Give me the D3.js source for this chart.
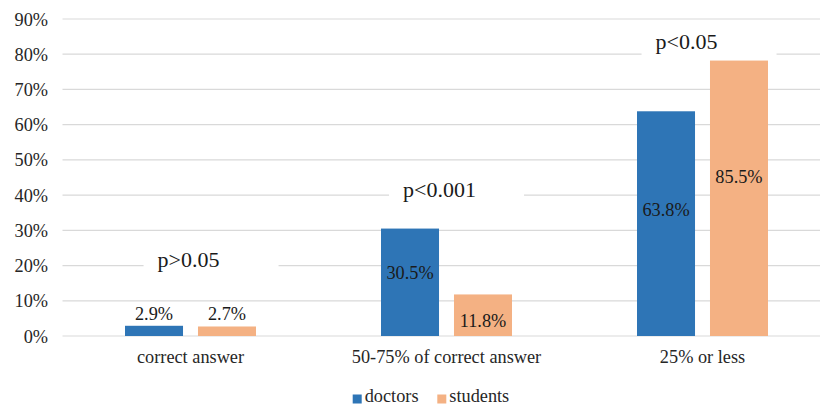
<!DOCTYPE html>
<html><head><meta charset="utf-8">
<script src="https://cdn.jsdelivr.net/npm/d3@7"></script>
<style>
html,body{margin:0;padding:0;background:#fff;}
svg{display:block;}
</style></head>
<body><svg id="c" width="820" height="410" font-family="Liberation Serif"></svg>
<script>
// ---- data ----
const categories = ["correct answer", "50-75% of correct answer", "25% or less"];
const seriesNames = ["doctors", "students"];
const doctors = [2.9, 30.5, 63.8];          // bar heights (%)
const students = [2.7, 11.8, 78.2];         // bar heights as drawn (%)
const doctorLabels = ["2.9%", "30.5%", "63.8%"];
const studentLabels = ["2.7%", "11.8%", "85.5%"];
const pLabels = ["p>0.05", "p<0.001", "p<0.05"];
const yTicks = [0, 10, 20, 30, 40, 50, 60, 70, 80, 90];

// ---- label placement (in value units / px offsets), kept separate ----
const doctorLabelAt = [4.5, 16.1, 34.1];
const studentLabelAt = [4.5, 2.6, 43.4];
const pLabelAt = [19.6, 39.4, 81.4];
const pLabelDx = [-2, -7, -16];

const FONT = "Liberation Serif";
const colors = {doctors: "#2E75B6", students: "#F4B183"};
const svg = d3.select("#c");

const x0 = d3.scaleBand().domain(categories).range([62.5, 830.5]).paddingInner(0).paddingOuter(0);
const x1 = d3.scaleBand().domain(seriesNames).range([62.5, x0.bandwidth() - 62.5]).paddingInner(0.205).paddingOuter(0);
const y = d3.scaleLinear().domain([0, 90]).range([336, 19]);

// gridlines
svg.append("g").selectAll("line").data(yTicks).join("line")
  .attr("x1", 62.5).attr("x2", 830).attr("y1", d => y(d)).attr("y2", d => y(d))
  .attr("stroke", "#D9D9D9").attr("stroke-width", 1.2);

// y axis labels
const yAxis = d3.axisLeft(y).tickValues(yTicks).tickFormat(d => d + "%").tickSize(0).tickPadding(0);
const gy = svg.append("g").attr("transform", "translate(48,0)").call(yAxis);
gy.select(".domain").remove();
gy.attr("font-family", FONT).attr("font-size", 18.3);
gy.selectAll("text").attr("font-family", FONT).attr("font-size", 18.3).attr("fill", "#262626").attr("dy", "0.33em");

// bars
const rows = categories.map((c, i) => ({c, i, vals: [doctors[i], students[i]]}));
const groups = svg.append("g").selectAll("g").data(rows).join("g")
  .attr("transform", d => `translate(${x0(d.c)},0)`);
groups.selectAll("rect").data(d => seriesNames.map((s, k) => ({s, v: d.vals[k]}))).join("rect")
  .attr("x", d => x1(d.s)).attr("width", x1.bandwidth())
  .attr("y", d => y(d.v)).attr("height", d => y(0) - y(d.v))
  .attr("fill", d => colors[d.s]);

// data labels
const lab = svg.append("g").attr("font-family", FONT).attr("font-size", 18.3).attr("fill", "#1a1a1a").attr("text-anchor", "middle");
categories.forEach((c, i) => {
  lab.append("text").attr("font-family", FONT).attr("x", x0(c) + x1("doctors") + x1.bandwidth() / 2).attr("y", y(doctorLabelAt[i])).text(doctorLabels[i]);
  lab.append("text").attr("font-family", FONT).attr("x", x0(c) + x1("students") + x1.bandwidth() / 2).attr("y", y(studentLabelAt[i])).text(studentLabels[i]);
});

// p-value annotations with white boxes
const pg = svg.append("g");
categories.forEach((c, i) => {
  const cx = x0(c) + x0.bandwidth() / 2 + pLabelDx[i];
  const t = pg.append("text").attr("x", cx).attr("y", y(pLabelAt[i]))
    .attr("text-anchor", "middle").attr("font-family", FONT).attr("font-size", 22).attr("fill", "#1a1a1a").text(pLabels[i]);
  const bb = t.node().getBBox();
  pg.insert("rect", "text").attr("x", bb.x - 14).attr("width", 135).attr("y", bb.y - 2).attr("height", bb.height + 4).attr("fill", "#fff");
});

// category axis labels
svg.append("g").selectAll("text").data(categories).join("text")
  .attr("x", d => x0(d) + x0.bandwidth() / 2).attr("y", 363)
  .attr("text-anchor", "middle").attr("font-family", FONT).attr("font-size", 18.3).attr("fill", "#262626").text(d => d);

// legend
const leg = svg.append("g");
const legX = [352.7, 437.3];
seriesNames.forEach((s, k) => {
  leg.append("rect").attr("x", legX[k]).attr("y", 394.5).attr("width", 9).attr("height", 9).attr("fill", colors[s]);
  leg.append("text").attr("x", legX[k] + 12).attr("y", 401.7).attr("font-family", FONT).attr("font-size", 18.3).attr("fill", "#262626").text(s);
});
</script></body></html>
